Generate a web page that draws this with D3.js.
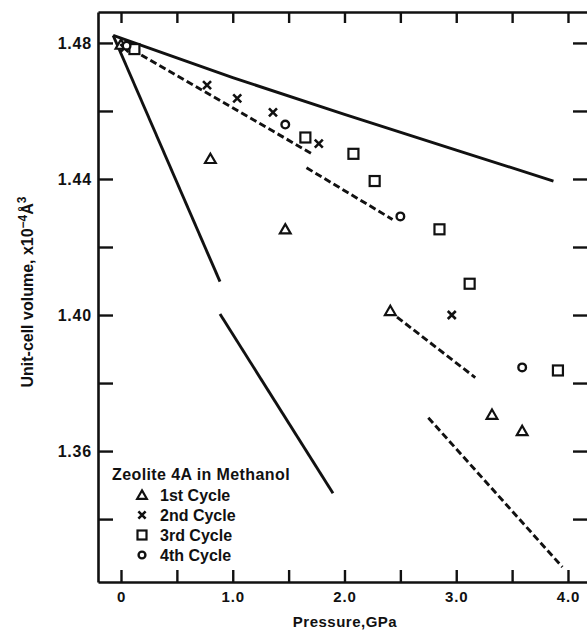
<!DOCTYPE html>
<html>
<head>
<meta charset="utf-8">
<script src="https://cdn.jsdelivr.net/npm/d3@7"></script>
<style>
  body { margin: 0; background: #fff; }
  text { font-family: "Liberation Sans", Arial, sans-serif; font-weight: bold; fill: #111; }
</style>
</head>
<body>
<svg id="chart" width="587" height="634"></svg>
<script>
// pressure (GPa), unit-cell volume
const cycle1 = [[0.0, 1.4795], [0.80, 1.4459], [1.47, 1.4252], [2.41, 1.4012], [3.32, 1.3707], [3.59, 1.3659]];
const cycle2 = [[0.03, 1.4785], [0.77, 1.4676], [1.04, 1.4637], [1.36, 1.4596], [1.77, 1.4504], [2.96, 1.4000]];
const cycle3 = [[0.12, 1.4782], [1.65, 1.4522], [2.08, 1.4474], [2.27, 1.4394], [2.85, 1.4252], [3.12, 1.4092], [3.91, 1.3837]];
const cycle4 = [[0.05, 1.4792], [1.47, 1.4560], [2.50, 1.4290], [3.59, 1.3846]];

// solid curves
const solidLines = [
  [[-0.07, 1.4822], [1.0, 1.4698], [2.0, 1.4590], [3.0, 1.4485], [3.87, 1.4394]],
  [[-0.07, 1.4822], [0.886, 1.4098]],
  [[0.886, 1.4003], [1.897, 1.3476]]
];
// dashed segments
const dashedLines = [
  [[0.10, 1.4780], [1.71, 1.4474]],
  [[1.66, 1.4433], [2.43, 1.4281]],
  [[2.47, 1.3994], [3.17, 1.3816]],
  [[2.75, 1.3698], [3.95, 1.3259]]
];

const xMajor = [0, 1, 2, 3, 4];
const xMinor = [0, 0.5, 1, 1.5, 2, 2.5, 3, 3.5, 4];
const yTicks = [1.34, 1.36, 1.38, 1.40, 1.42, 1.44, 1.46, 1.48];
const yLabels = [1.36, 1.40, 1.44, 1.48];
const legendItems = ["1st Cycle", "2nd Cycle", "3rd Cycle", "4th Cycle"];

const svg = d3.select("#chart");
const plotLeft = 98, plotRight = 590, plotTop = 12, plotBottom = 582;

const x = d3.scaleLinear().domain([-0.2058, 4.197]).range([plotLeft, plotRight]);
const y = d3.scaleLinear().domain([1.3215, 1.4891]).range([plotBottom, plotTop]);

// axes (all ticks point inward)
const gx = svg.append("g").attr("transform", `translate(0,${plotBottom})`)
  .call(d3.axisBottom(x).tickValues(xMinor).tickSize(-12).tickSizeOuter(0).tickPadding(9)
    .tickFormat(d => xMajor.includes(d) ? (d === 0 ? "0" : d3.format(".1f")(d)) : ""));
const gxTop = svg.append("g").attr("transform", `translate(0,${plotTop})`)
  .call(d3.axisTop(x).tickValues(xMinor).tickSize(-11).tickSizeOuter(0).tickFormat(""));
const gy = svg.append("g").attr("transform", `translate(${plotLeft},0)`)
  .call(d3.axisLeft(y).tickValues(yTicks).tickSize(-15).tickSizeOuter(0).tickPadding(6)
    .tickFormat(d => yLabels.some(v => Math.abs(v - d) < 1e-9) ? d3.format(".2f")(d) : ""));
const gyRight = svg.append("g").attr("transform", `translate(${plotRight},0)`)
  .call(d3.axisRight(y).tickValues(yTicks).tickSize(-17).tickSizeOuter(0).tickFormat(""));

[gx, gxTop, gy, gyRight].forEach(g => {
  g.select(".domain").attr("stroke", "#111").attr("stroke-width", 2.6);
  g.selectAll(".tick line").attr("stroke", "#111").attr("stroke-width", 2.4);
  g.selectAll(".tick text")
    .style("font-family", "'Liberation Sans', Arial, sans-serif").style("font-weight", "bold").attr("fill", "#111");
});
gx.selectAll(".tick text").style("font-size", "15px").style("letter-spacing", "0.8px");
gy.selectAll(".tick text").style("font-size", "16px").style("letter-spacing", "0.8px");

// lines
const line = d3.line().x(d => x(d[0])).y(d => y(d[1]));
svg.append("g").selectAll("path").data(solidLines).join("path")
  .attr("d", line).attr("fill", "none").attr("stroke", "#111").attr("stroke-width", 2.9);
svg.append("g").selectAll("path").data(dashedLines).join("path")
  .attr("d", line).attr("fill", "none").attr("stroke", "#111").attr("stroke-width", 2.9)
  .attr("stroke-dasharray", "7,3.5");

// markers
function drawMarker(g, type, cx, cy, k) {
  if (type === 0) {
    g.append("path").attr("d", d3.symbol(d3.symbolTriangle, 50 * k * k)())
      .attr("transform", `translate(${cx},${cy + 1})`)
      .attr("fill", "#fff").attr("stroke", "#111").attr("stroke-width", 2.2);
  } else if (type === 1) {
    const s = 4 * k;
    g.append("path").attr("d", `M${cx - s},${cy - s}L${cx + s},${cy + s}M${cx - s},${cy + s}L${cx + s},${cy - s}`)
      .attr("stroke", "#111").attr("stroke-width", 2.6);
  } else if (type === 2) {
    const s = 5 * k;
    g.append("rect").attr("x", cx - s).attr("y", cy - s).attr("width", 2 * s).attr("height", 2 * s)
      .attr("fill", "#fff").attr("stroke", "#111").attr("stroke-width", 2.2);
  } else {
    g.append("circle").attr("cx", cx).attr("cy", cy).attr("r", 3.8 * k)
      .attr("fill", "#fff").attr("stroke", "#111").attr("stroke-width", 2.4);
  }
}

const pts = svg.append("g");
[cycle1, cycle2, cycle3, cycle4].forEach((data, i) => {
  data.forEach(d => drawMarker(pts, i, x(d[0]), y(d[1]), 1));
});

// axis titles
svg.append("text").attr("x", 345).attr("y", 627).attr("text-anchor", "middle")
  .style("font-size", "15px").style("letter-spacing", "0.5px").text("Pressure,GPa");

const yt = svg.append("text").attr("transform", "translate(33,292) rotate(-90)")
  .attr("text-anchor", "middle").style("font-size", "16px");
yt.append("tspan").text("Unit-cell volume, x10");
yt.append("tspan").attr("dy", -6).style("font-size", "12px").text("\u22124");
yt.append("tspan").attr("dy", 6).text("\u00C5");
yt.append("tspan").attr("dy", -7).style("font-size", "12px").text("3");

// legend
const lg = svg.append("g");
lg.append("text").attr("x", 112).attr("y", 480).style("font-size", "16px").style("letter-spacing", "0.4px")
  .text("Zeolite 4A in Methanol");
legendItems.forEach((t, i) => {
  const ly = 501 + i * 20;
  drawMarker(lg, i, 142, ly - 6, 0.9);
  lg.append("text").attr("x", 160).attr("y", ly).style("font-size", "16px").text(t);
});
</script>
</body>
</html>
